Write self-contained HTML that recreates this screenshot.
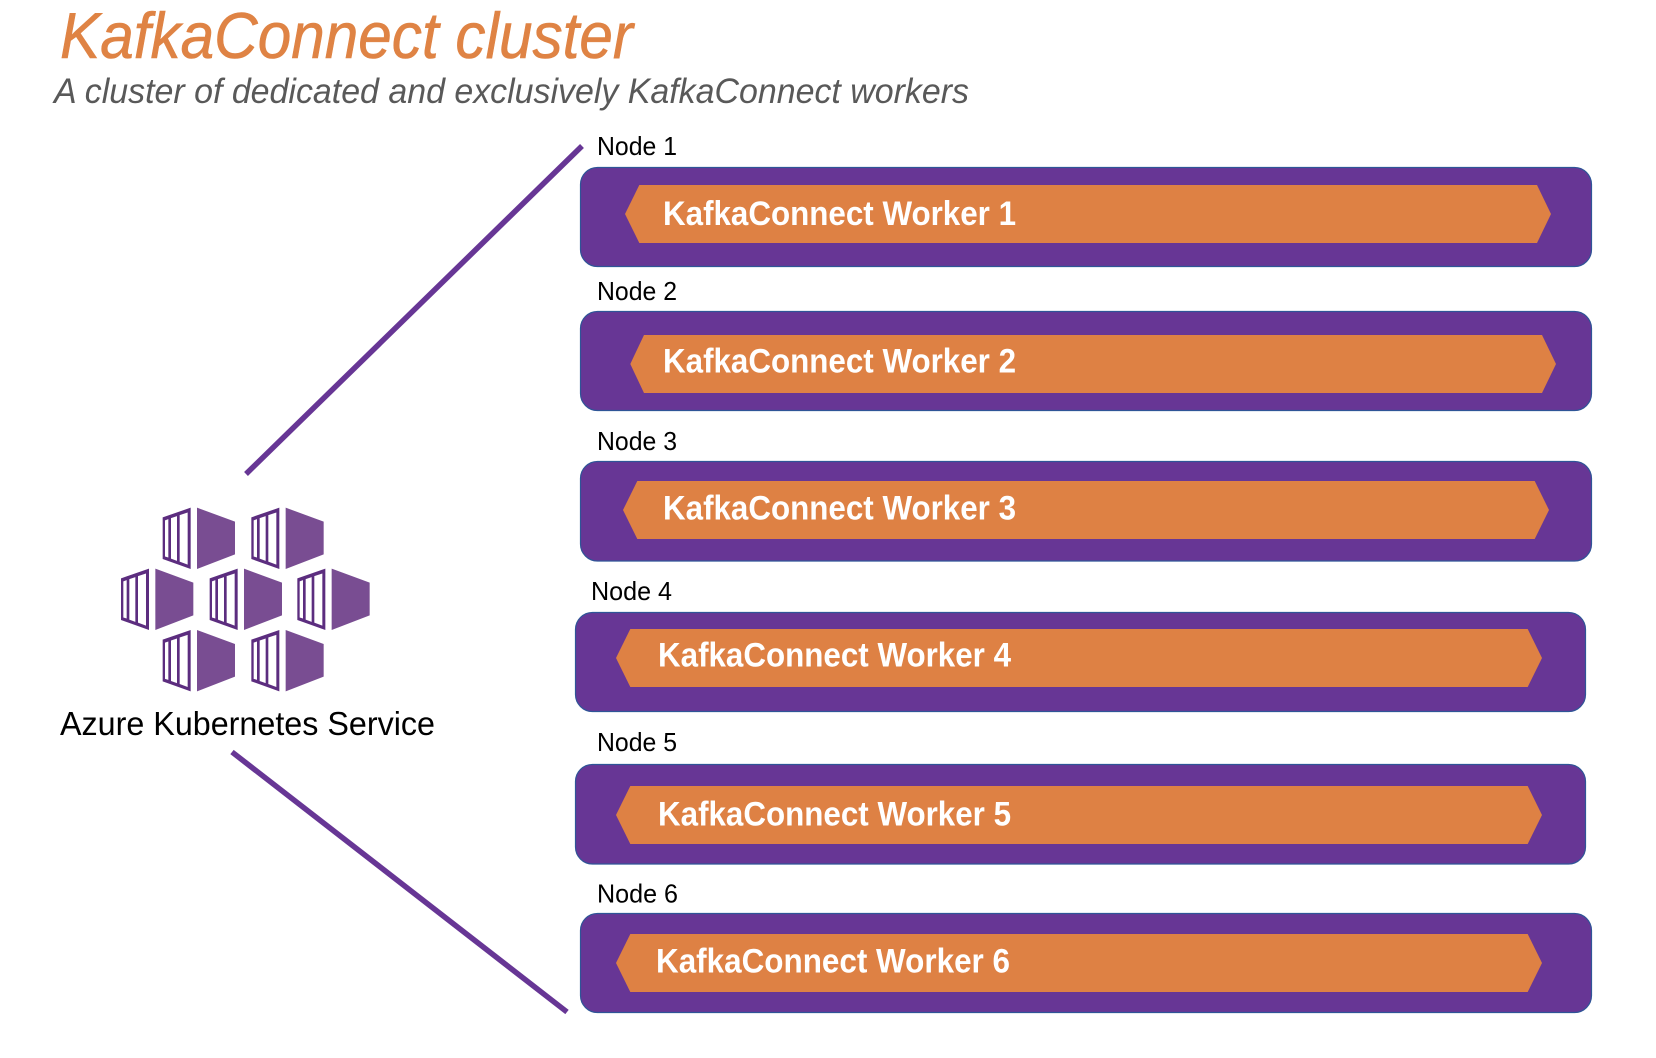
<!DOCTYPE html>
<html lang="en">
<head>
<meta charset="utf-8">
<title>KafkaConnect cluster</title>
<style>
html,body{margin:0;padding:0;background:#fff;width:1656px;height:1058px;overflow:hidden}
svg{display:block}
.box{fill:#673695;stroke:#2F5597;stroke-width:1.2}
.chev{fill:#DE8144}
.node{font-family:"Liberation Sans",sans-serif;font-size:26px;fill:#000}
.wk{font-family:"Liberation Sans",sans-serif;font-weight:bold;font-size:34px;fill:#fff}
</style>
</head>
<body>
<svg width="1656" height="1058" viewBox="0 0 1656 1058" xmlns="http://www.w3.org/2000/svg">
<defs>
<g id="unit">
<polygon points="188,82 272,53 272,237 188,207" fill="#5C2D7F"/>
<polygon points="195,91 205,87.5 205,202.5 195,199.5" fill="#fff"/>
<polygon points="213,84.5 231,78.5 231,212.5 213,206" fill="#fff"/>
<polygon points="239,75.5 263,67.5 263,224 239,215" fill="#fff"/>
<polygon points="291,53 405,95 405,193 291,237" fill="#794D92"/>
</g>
</defs>

<text x="60" y="58" font-family="'Liberation Sans',sans-serif" font-style="italic" font-size="65" fill="#DF8344" stroke="#DF8344" stroke-width="0.6" textLength="573" lengthAdjust="spacingAndGlyphs">KafkaConnect cluster</text>
<text x="54" y="103" font-family="'Liberation Sans',sans-serif" font-style="italic" font-size="35" fill="#595959" textLength="915" lengthAdjust="spacingAndGlyphs">A cluster of dedicated and exclusively KafkaConnect workers</text>

<line x1="246" y1="474" x2="582" y2="146" stroke="#673695" stroke-width="5.5"/>
<line x1="232" y1="752" x2="567" y2="1012" stroke="#673695" stroke-width="5.5"/>

<g transform="translate(100,490) scale(0.33333)">
<use href="#unit"/>
<use href="#unit" x="266"/>
<use href="#unit" x="-125" y="183"/>
<use href="#unit" x="141" y="183"/>
<use href="#unit" x="404" y="183"/>
<use href="#unit" y="367"/>
<use href="#unit" x="266" y="367"/>
</g>
<text x="60" y="735" font-family="'Liberation Sans',sans-serif" font-size="33" fill="#000" textLength="375" lengthAdjust="spacingAndGlyphs">Azure Kubernetes Service</text>

<text class="node" x="597" y="155" textLength="80" lengthAdjust="spacingAndGlyphs">Node 1</text>
<rect class="box" x="580.5" y="167.5" width="1011" height="99" rx="17"/>
<polygon class="chev" points="625,214 639.3,185 1537,185 1551,214 1537,243 639.3,243"/>
<text class="wk" x="663" y="225" textLength="353" lengthAdjust="spacingAndGlyphs">KafkaConnect Worker 1</text>

<text class="node" x="597" y="300" textLength="80" lengthAdjust="spacingAndGlyphs">Node 2</text>
<rect class="box" x="580.5" y="311.5" width="1011" height="99" rx="17"/>
<polygon class="chev" points="630.3,364 644,335 1542,335 1556,364 1542,393 644,393"/>
<text class="wk" x="663" y="372.7" textLength="353" lengthAdjust="spacingAndGlyphs">KafkaConnect Worker 2</text>

<text class="node" x="597" y="450" textLength="80" lengthAdjust="spacingAndGlyphs">Node 3</text>
<rect class="box" x="580.5" y="461.5" width="1011" height="99.5" rx="17"/>
<polygon class="chev" points="623,510 637.3,481 1534.7,481 1549,510 1534.7,539 637.3,539"/>
<text class="wk" x="663" y="519.3" textLength="353" lengthAdjust="spacingAndGlyphs">KafkaConnect Worker 3</text>

<text class="node" x="591" y="600" textLength="81" lengthAdjust="spacingAndGlyphs">Node 4</text>
<rect class="box" x="575.5" y="612.5" width="1010" height="99" rx="17"/>
<polygon class="chev" points="616,658 630.3,629 1527.7,629 1542,658 1527.7,687 630.3,687"/>
<text class="wk" x="658" y="666.7" textLength="353" lengthAdjust="spacingAndGlyphs">KafkaConnect Worker 4</text>

<text class="node" x="597" y="751" textLength="80" lengthAdjust="spacingAndGlyphs">Node 5</text>
<rect class="box" x="575.5" y="764.5" width="1010" height="99.5" rx="17"/>
<polygon class="chev" points="616,815 630.3,786 1527.7,786 1542,815 1527.7,844 630.3,844"/>
<text class="wk" x="658" y="825.7" textLength="353" lengthAdjust="spacingAndGlyphs">KafkaConnect Worker 5</text>

<text class="node" x="597" y="902.3" textLength="81" lengthAdjust="spacingAndGlyphs">Node 6</text>
<rect class="box" x="580.5" y="913.5" width="1011" height="99" rx="17"/>
<polygon class="chev" points="616,963 630.3,934 1527.7,934 1542,963 1527.7,992 630.3,992"/>
<text class="wk" x="656" y="972.7" textLength="354" lengthAdjust="spacingAndGlyphs">KafkaConnect Worker 6</text>
</svg>
</body>
</html>
